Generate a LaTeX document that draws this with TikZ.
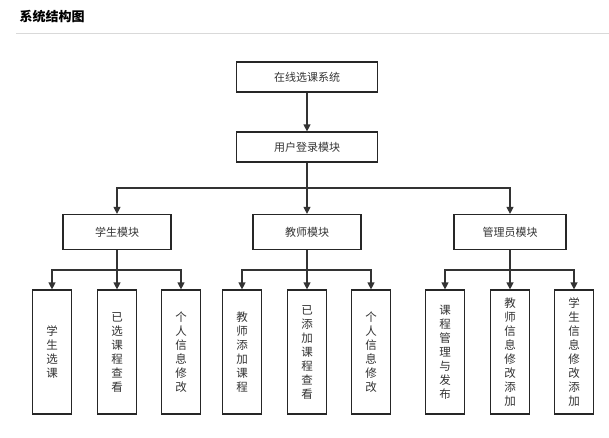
\documentclass[tikz,border=0pt]{standalone}
\usepackage{fontspec}
\setmainfont{Noto Sans CJK SC}
\usetikzlibrary{arrows.meta}
\begin{document}
\begin{tikzpicture}[x=1pt,y=-1pt,
  box/.style={draw=black!85,line width=1.2pt,font=\fontsize{11}{13}\selectfont,text=black!80},
  hbox/.style={box,minimum width=108pt,minimum height=35pt},
  leaf/.style={box,minimum width=39pt,minimum height=124pt,align=center,font=\fontsize{11.5}{14}\selectfont},
  arr/.style={draw=black!80,line width=1.2pt,-{Triangle[length=7pt,width=7pt]}}]
\useasboundingbox (0,0) rectangle (609,437);
\node[anchor=west,font=\bfseries\fontsize{13}{15}\selectfont] (title) at (16,17) {系统结构图};
\draw[black!15,line width=0.8pt] (16,33) -- (609,33);
\node[hbox,minimum width=141pt,minimum height=30pt] (root) at (307,77) {在线选课系统};
\node[hbox,minimum width=141pt,minimum height=30pt] (login) at (307,147) {用户登录模块};
\node[hbox] (s) at (117,232) {学生模块};
\node[hbox] (t) at (307,232) {教师模块};
\node[hbox,minimum width=112pt] (a) at (510,232) {管理员模块};
\coordinate (jt) at (307,188);
\draw[arr] (root) -- (login);
\draw[arr] (login.south) -- (jt) -| (s.north);
\draw[arr] (jt) -- (t.north);
\draw[arr] (jt) -| (a.north);
\foreach \p/\n/\x/\t in {s/s1/52/学\\生\\选\\课, s/s2/117/已\\选\\课\\程\\查\\看, s/s3/181/个\\人\\信\\息\\修\\改,
  t/t1/242/教\\师\\添\\加\\课\\程, t/t2/307/已\\添\\加\\课\\程\\查\\看, t/t3/371/个\\人\\信\\息\\修\\改,
  a/a1/445/课\\程\\管\\理\\与\\发\\布, a/a2/510/教\\师\\信\\息\\修\\改\\添\\加, a/a3/574/学\\生\\信\\息\\修\\改\\添\\加}{
  \node[leaf] (\n) at (\x,352) {\t};
}
\foreach \p/\l/\c/\r in {s/s1/s2/s3, t/t1/t2/t3, a/a1/a2/a3}{
  \draw[arr] (\p.south) -- (\c.north |- 0,270) -- (\c.north);
  \draw[arr] (\c.north |- 0,270) -| (\l.north);
  \draw[arr] (\c.north |- 0,270) -| (\r.north);
}
\end{tikzpicture}
\end{document}
